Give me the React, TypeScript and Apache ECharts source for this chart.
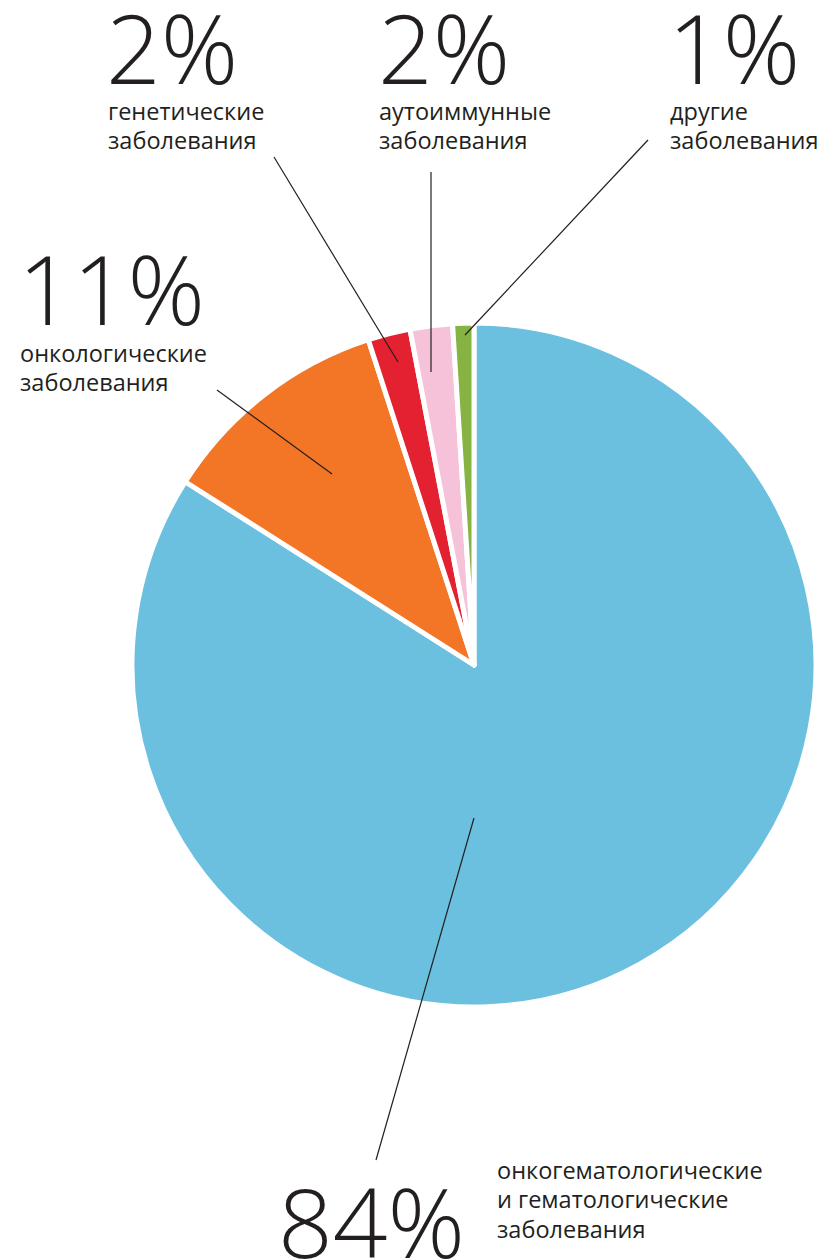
import React, { useEffect, useRef } from "react";
import * as echarts from "echarts";

const categories = [
  "онкогематологические и гематологические заболевания",
  "онкологические заболевания",
  "генетические заболевания",
  "аутоиммунные заболевания",
  "другие заболевания",
];
const values = [84, 11, 2, 2, 1];
const colors = ["#6bc0df", "#f37526", "#e42130", "#f5c2da", "#86b341"];
const bigLabels = ["84%", "11%", "2%", "2%", "1%"];
const smallLabels = [
  "онкогематологические\nи гематологические\nзаболевания",
  "онкологические\nзаболевания",
  "генетические\nзаболевания",
  "аутоиммунные\nзаболевания",
  "другие\nзаболевания",
];

// annotation layout (positions of label blocks and leader lines)
const bigPos = [
  [278, 1220],
  [18, 287],
  [106, 46],
  [378, 46],
  [668, 46],
];
const smallPos = [
  [497, 1155],
  [20, 338],
  [108, 96],
  [379, 96],
  [670, 96],
];
const leaders = [
  [376, 1160, 474, 818],
  [217, 390, 332, 474],
  [274, 157, 398, 362],
  [431, 172, 431, 372],
  [648, 140, 465, 335],
];

const TEXT = "#231f20";
const FONT = "'Open Sans', 'Noto Sans', sans-serif";

export default function App() {
  const ref = useRef<HTMLDivElement>(null);
  useEffect(() => {
    const chart = echarts.init(ref.current!, null, { renderer: "svg" });
    const graphics: any[] = [];
    for (let i = 0; i < values.length; i++) {
      graphics.push({
        type: "line",
        shape: { x1: leaders[i][0], y1: leaders[i][1], x2: leaders[i][2], y2: leaders[i][3] },
        style: { stroke: TEXT, lineWidth: 1.2 },
        z: 100,
      });
      graphics.push({
        type: "text",
        x: bigPos[i][0],
        y: bigPos[i][1],
        style: {
          text: bigLabels[i],
          fill: TEXT,
          font: `300 96px ${FONT}`,
          lineHeight: 70,
          verticalAlign: "middle",
          align: "left",
        },
        z: 100,
      });
      graphics.push({
        type: "text",
        x: smallPos[i][0],
        y: smallPos[i][1],
        style: {
          text: smallLabels[i],
          fill: TEXT,
          font: `400 23.5px ${FONT}`,
          lineHeight: 29.5,
          verticalAlign: "top",
          align: "left",
        },
        z: 100,
      });
    }
    chart.setOption({
      animation: false,
      backgroundColor: "#ffffff",
      series: [
        {
          type: "pie",
          center: [474, 665],
          radius: [0, 342],
          startAngle: 90,
          clockwise: true,
          label: { show: false },
          labelLine: { show: false },
          itemStyle: { borderColor: "#ffffff", borderWidth: 5 },
          data: values.map((v, i) => ({
            name: categories[i],
            value: v,
            itemStyle: { color: colors[i] },
          })),
        },
      ],
      graphic: graphics,
    });
    return () => chart.dispose();
  }, []);
  return (
    <div
      ref={ref}
      style={{ position: "absolute", left: 0, top: 0, width: 829, height: 1259 }}
    />
  );
}
